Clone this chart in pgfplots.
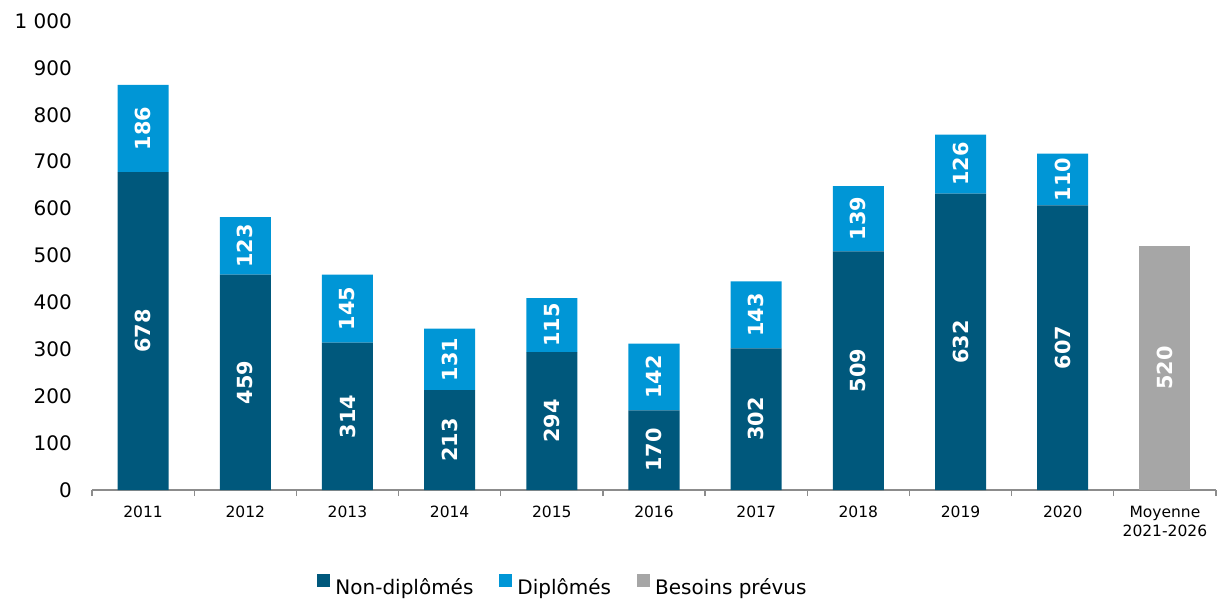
\documentclass[border=0pt]{standalone}
\usepackage{fontspec}
\setmainfont{DejaVu Sans}
\usepackage{pgfplots}
\usepackage{pgfplotstable}
\pgfplotsset{compat=1.18}
\definecolor{nd}{RGB}{0,88,124}
\definecolor{dip}{RGB}{0,150,214}
\definecolor{bp}{RGB}{166,166,166}
\definecolor{axgray}{RGB}{140,140,140}

\pgfplotstableread{
x nd d bp
0 678 186 0
1 459 123 0
2 314 145 0
3 213 131 0
4 294 115 0
5 170 142 0
6 302 143 0
7 509 139 0
8 632 126 0
9 607 110 0
10 0 0 520
}\data

\pgfplotsset{
  base/.style={width=1124pt,height=469pt,scale only axis,
    xmin=-0.5,xmax=10.5,ymin=0,ymax=1000}
}
\tikzset{lab/.style={rotate=90,anchor=center,text=white,inner sep=0pt,
    font=\bfseries\fontsize{20.8}{24}\selectfont}}

\begin{document}
\begin{tikzpicture}
\useasboundingbox (-92pt,-108pt) rectangle (1128pt,490pt);
\begin{axis}[base, ybar stacked, bar width=51pt,
  axis lines*=left,
  y axis line style={draw=none},
  x axis line style={axgray, line width=1.2pt},
  ytick={0,100,...,1000},
  yticklabels={0,100,200,300,400,500,600,700,800,900,{1 000}},
  ytick style={draw=none},
  yticklabel style={anchor=east, inner sep=0pt, xshift=-14pt,
    font=\fontsize{20}{24}\selectfont},
  xtick={-0.5,0.5,...,10.5},
  x tick label as interval,
  xticklabels={2011,2012,2013,2014,2015,2016,2017,2018,2019,2020,{Moyenne\\2021-2026}},
  xticklabel style={align=center, anchor=north, inner sep=0pt, yshift=-10pt,
    font=\fontsize{15.5}{19}\selectfont},
  tick align=outside,
  major tick length=6pt,
  xtick style={axgray, line width=1.2pt},
  legend style={at={(axis description cs:0.419,-0.2045)}, anchor=center,
    draw=none, legend columns=3, font=\fontsize{20}{24}\selectfont,
    nodes={inner sep=2pt},
    /tikz/every odd column/.append style={column sep=3pt},
    /tikz/every even column/.append style={column sep=24pt}},
  legend image code/.code={\fill[#1] (0pt,-0.5pt) rectangle (13pt,12.5pt);},
]
\addplot[fill=nd, draw=none] table[x=x, y=nd]{\data};
\addplot[fill=dip, draw=none] table[x=x, y=d]{\data};
\addplot[fill=bp, draw=none] table[x=x, y=bp]{\data};
\legend{Non-diplômés, Diplômés, Besoins prévus}
\end{axis}
\begin{axis}[base, hide axis, clip=false]
\addplot[draw=none, nodes near coords, point meta=explicit symbolic,
  restrict x to domain=0:9, every node near coord/.style={lab}]
  table[x=x, y expr=\thisrow{nd}/2, meta=nd]{\data};
\addplot[draw=none, nodes near coords, point meta=explicit symbolic,
  restrict x to domain=0:9, every node near coord/.style={lab}]
  table[x=x, y expr=\thisrow{nd}+\thisrow{d}/2, meta=d]{\data};
\addplot[draw=none, nodes near coords, point meta=explicit symbolic,
  restrict x to domain=10:10, every node near coord/.style={lab}]
  table[x=x, y expr=\thisrow{bp}/2, meta=bp]{\data};
\end{axis}
\end{tikzpicture}
\end{document}
